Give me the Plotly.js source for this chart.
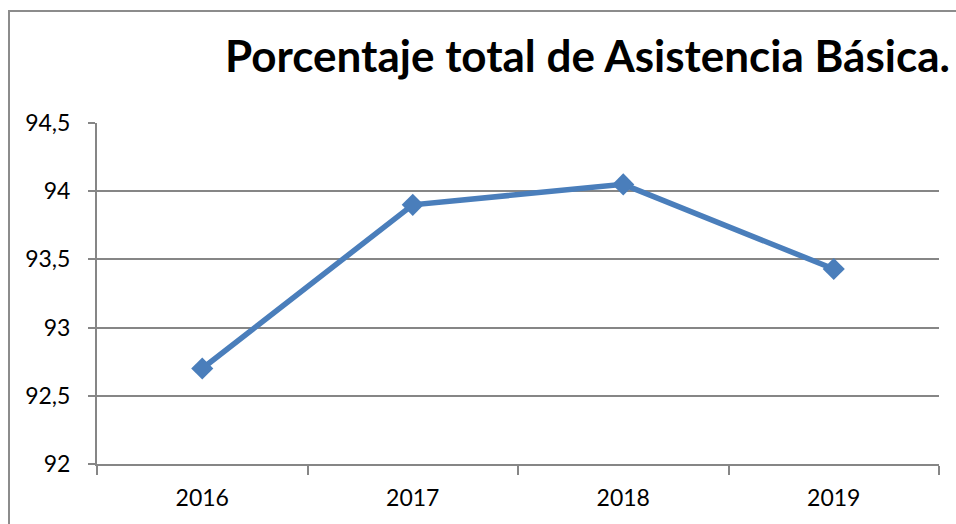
<!DOCTYPE html>
<html>
<head>
<meta charset="utf-8">
<script src="https://cdn.plot.ly/plotly-3.0.1.min.js"></script>
<style>html,body{margin:0;padding:0;background:#fff;}#chart{width:956px;height:524px;}</style>
</head>
<body>
<div id="chart"></div>
<script>
const years = ["2016", "2017", "2018", "2019"];
const porcentaje = [92.7, 93.9, 94.05, 93.43];
const yTicks = [92, 92.5, 93, 93.5, 94, 94.5];
const chartTitle = "Porcentaje total de Asistencia Básica.";

const L = 97, R = 939, T = 123, B = 464, W = 956, H = 524;
const pw = R - L, ph = B - T;
const px = v => (v - L) / pw;
const py = v => (B - v) / ph;

const trace = {
  x: years,
  y: porcentaje,
  type: "scatter",
  mode: "lines+markers",
  line: {color: "#4a7ebb", width: 5.5},
  marker: {symbol: "diamond", size: 17, color: "#4a7ebb"},
  hoverinfo: "x+y"
};

const layout = {
  width: W, height: H,
  margin: {l: L, r: W - R, t: T, b: H - B, pad: 0},
  paper_bgcolor: "#fff", plot_bgcolor: "#fff",
  separators: ",.",
  showlegend: false,
  font: {family: "Lato, 'Open Sans', sans-serif", color: "#000"},
  title: {
    text: "<b>" + chartTitle + "</b>",
    font: {family: "Lato, 'Open Sans', sans-serif", size: 44, color: "#000"},
    xref: "container", yref: "container",
    x: 225 / W, xanchor: "left",
    y: 1 - 57 / H, yanchor: "middle"
  },
  xaxis: {
    type: "category",
    range: [-0.5, 3.5],
    tickson: "boundaries",
    ticks: "outside", ticklen: 9, tickcolor: "#868686", tickwidth: 2,
    showline: true, linecolor: "#868686", linewidth: 2,
    showgrid: false, zeroline: false,
    tickfont: {size: 23, color: "#000"},
    ticklabelstandoff: 12,
    fixedrange: true
  },
  yaxis: {
    range: [92, 94.5],
    tickvals: yTicks,
    ticks: "outside", ticklen: 7, tickcolor: "#868686", tickwidth: 2,
    showline: true, linecolor: "#868686", linewidth: 2,
    showgrid: true, gridcolor: "#868686", gridwidth: 2,
    zeroline: false,
    tickfont: {size: 23, color: "#000"},
    ticklabelstandoff: 13,
    fixedrange: true
  },
  shapes: [{
    type: "rect", xref: "paper", yref: "paper",
    x0: px(9), x1: px(W + 20), y0: py(H + 20), y1: py(11),
    line: {color: "#8c8c8c", width: 2}, fillcolor: "rgba(0,0,0,0)", layer: "below"
  }]
};

Plotly.newPlot("chart", [trace], layout, {displayModeBar: false, staticPlot: true});
</script>
</body>
</html>
